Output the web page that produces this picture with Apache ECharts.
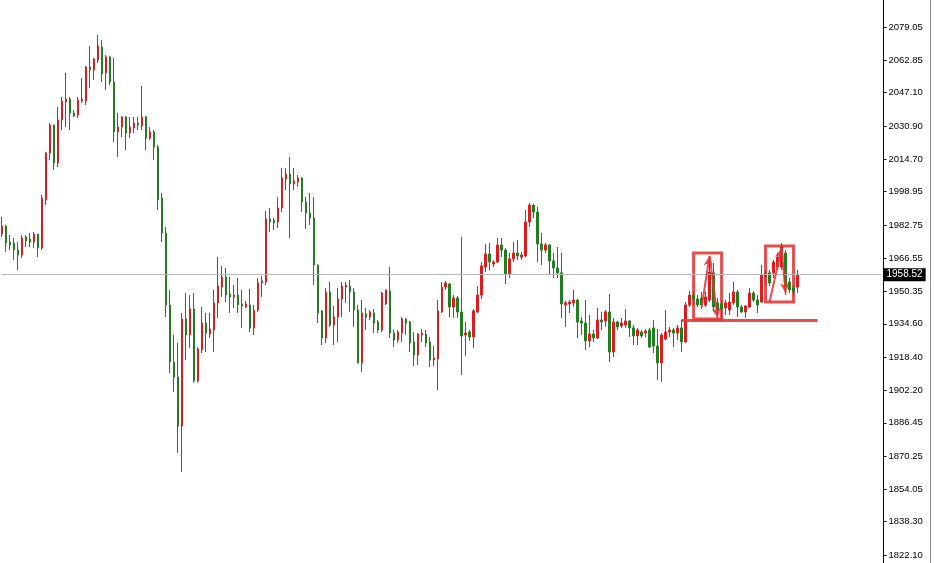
<!DOCTYPE html>
<html><head><meta charset="utf-8">
<script src="https://cdn.jsdelivr.net/npm/echarts@6/dist/echarts.min.js"></script>
<style>html,body{margin:0;padding:0;background:#fff}#c{width:934px;height:563px}</style>
</head><body><div id="c"></div>
<script>
// OHLC candles: [open, close, low, high]
const candles = [
[1978.3,1982.2,1976.9,1986.6],[1982.2,1973.9,1969.6,1982.7],[1974.4,1973.0,1970.5,1977.8],[1973.9,1970.5,1965.7,1976.4],[1970.5,1968.1,1960.8,1974.4],
[1968.1,1976.4,1966.6,1977.8],[1976.9,1974.9,1972.0,1977.8],[1975.9,1974.4,1972.0,1978.8],[1974.4,1978.3,1971.5,1979.3],[1978.3,1971.5,1967.1,1978.3],
[1971.5,1995.8,1970.5,1997.3],[1994.9,2017.7,1992.4,2018.3],[2017.7,2031.4,2014.3,2032.3],[2031.4,2012.9,2009.5,2031.4],[2012.9,2033.8,2010.9,2040.1],
[2033.8,2043.0,2028.9,2045.0],[2042.6,2044.0,2030.4,2056.7],[2044.0,2037.2,2028.9,2045.0],[2037.2,2035.8,2035.3,2038.7],[2036.2,2043.5,2034.8,2045.0],
[2043.0,2044.0,2042.1,2054.2],[2043.0,2059.6,2041.1,2060.1],[2059.6,2058.1,2049.4,2069.8],[2058.1,2063.5,2053.3,2064.0],[2063.0,2069.8,2061.5,2075.2],
[2069.3,2056.2,2052.3,2072.7],[2056.7,2064.5,2048.4,2065.4],[2064.5,2052.3,2050.8,2065.0],[2052.3,2028.0,2023.1,2064.0],[2028.0,2030.4,2015.8,2037.2],
[2030.4,2035.3,2025.5,2035.8],[2035.3,2027.5,2019.2,2035.8],[2027.5,2030.4,2025.0,2035.3],[2029.9,2032.3,2027.5,2035.3],[2032.3,2031.4,2028.9,2035.3],
[2030.9,2035.3,2028.9,2050.4],[2035.3,2025.0,2019.2,2035.8],[2025.0,2028.0,2024.1,2030.4],[2028.0,2020.7,2014.3,2028.9],[2020.7,1994.9,1990.0,2021.6],
[1995.8,1978.8,1974.4,1998.3],[1978.8,1943.8,1937.9,1981.7],[1943.8,1916.0,1910.7,1951.1],[1916.0,1908.7,1901.4,1929.2],[1908.7,1884.9,1871.8,1925.3],
[1884.9,1937.0,1862.5,1939.9],[1937.0,1929.2,1917.0,1949.6],[1929.2,1941.8,1922.9,1948.6],[1941.8,1906.8,1906.0,1949.6],[1906.8,1922.4,1906.0,1923.3],
[1921.9,1935.0,1920.4,1942.8],[1935.0,1930.1,1920.9,1939.9],[1929.7,1932.1,1927.7,1939.9],[1931.6,1944.8,1920.9,1951.1],[1944.8,1953.0,1937.5,1967.1],
[1952.5,1957.4,1947.7,1962.8],[1957.4,1948.6,1945.2,1961.8],[1949.1,1947.7,1939.9,1957.4],[1947.7,1948.6,1942.3,1953.5],[1948.6,1943.8,1939.9,1956.9],
[1944.3,1943.3,1932.6,1951.1],[1942.8,1944.3,1942.3,1945.7],[1943.8,1932.6,1930.6,1951.6],[1932.6,1941.3,1929.2,1943.8],[1941.3,1954.5,1940.4,1956.9],
[1954.5,1955.5,1947.7,1957.9],[1955.0,1985.6,1953.5,1989.5],[1985.6,1984.2,1979.3,1991.0],[1985.1,1983.7,1980.3,1986.1],[1984.2,1991.0,1981.2,1996.3],
[1991.0,2005.6,1989.0,2010.4],[2005.1,2007.5,1999.7,2010.4],[2007.5,2002.7,1976.4,2015.8],[2002.7,2004.1,1999.7,2010.4],[2003.6,2005.6,2001.2,2007.0],
[2005.6,1993.9,1989.0,2006.1],[1993.9,1988.5,1980.8,1996.3],[1988.5,1986.1,1982.7,1998.3],[1986.1,1963.2,1953.5,1996.3],[1963.2,1939.9,1935.0,1963.5],
[1940.9,1927.7,1924.3,1941.3],[1927.7,1950.1,1925.3,1952.0],[1950.1,1934.0,1933.1,1955.0],[1934.0,1937.9,1924.3,1943.3],[1937.9,1946.7,1925.8,1952.0],
[1946.7,1953.0,1937.9,1955.0],[1952.5,1953.5,1944.8,1955.0],[1953.0,1950.1,1940.4,1955.9],[1950.1,1941.3,1933.1,1952.0],[1941.3,1915.6,1915.3,1943.8],
[1915.6,1939.9,1911.2,1946.2],[1939.4,1937.9,1931.6,1942.3],[1937.9,1940.4,1936.5,1941.3],[1939.9,1935.0,1930.1,1941.8],[1935.5,1931.6,1930.1,1936.5],
[1931.6,1949.6,1930.6,1950.1],[1944.3,1951.1,1943.8,1951.3],[1950.6,1930.1,1927.7,1962.3],[1930.1,1926.7,1923.3,1931.6],[1926.7,1930.6,1925.3,1931.6],
[1930.1,1937.0,1925.8,1937.9],[1937.0,1935.0,1929.2,1937.5],[1935.5,1925.3,1920.9,1936.0],[1925.8,1919.4,1914.1,1930.6],[1919.4,1929.7,1914.6,1930.1],
[1929.2,1930.1,1925.8,1932.1],[1929.7,1925.3,1923.3,1931.6],[1925.8,1917.0,1913.6,1928.2],[1917.0,1918.0,1914.1,1923.8],[1917.5,1940.9,1902.4,1946.2],
[1940.4,1952.5,1939.9,1955.0],[1952.5,1954.5,1951.1,1955.5],[1954.0,1942.8,1937.9,1954.5],[1942.8,1947.2,1937.5,1948.6],[1947.2,1940.4,1937.5,1948.2],
[1940.4,1928.7,1909.7,1976.9],[1929.2,1930.1,1919.0,1935.5],[1930.6,1928.2,1926.3,1931.6],[1928.2,1940.9,1922.9,1941.8],[1940.4,1948.6,1939.9,1953.0],
[1948.6,1962.8,1946.7,1964.7],[1962.3,1968.6,1959.8,1973.5],[1968.6,1964.7,1960.8,1973.9],[1963.7,1964.7,1962.3,1965.7],[1964.7,1973.0,1964.2,1976.4],
[1973.0,1970.5,1967.1,1976.4],[1970.5,1958.9,1954.0,1971.5],[1958.9,1966.2,1956.9,1969.1],[1966.2,1969.1,1964.7,1974.4],[1969.1,1967.6,1965.7,1975.4],
[1967.1,1968.1,1965.7,1969.6],[1967.6,1984.2,1967.1,1990.0],[1984.2,1992.4,1981.7,1993.4],[1992.4,1989.0,1986.1,1992.9],[1989.0,1973.5,1964.7,1991.5],
[1973.5,1970.5,1963.2,1978.8],[1970.5,1973.0,1969.1,1973.9],[1973.0,1965.2,1958.4,1973.5],[1965.2,1961.8,1956.9,1969.1],[1961.8,1959.4,1956.9,1972.0],
[1959.4,1944.3,1937.5,1969.1],[1943.8,1944.8,1933.1,1945.7],[1944.3,1945.2,1939.9,1946.2],[1944.8,1946.2,1942.8,1951.1],[1946.2,1935.5,1927.7,1946.7],
[1936.0,1935.0,1929.2,1937.9],[1935.0,1926.3,1921.9,1946.2],[1926.3,1929.7,1923.3,1938.9],[1929.7,1927.7,1925.8,1931.6],[1927.7,1936.5,1927.2,1942.3],
[1936.5,1935.5,1931.6,1940.4],[1936.0,1940.4,1933.1,1941.3],[1940.4,1920.9,1916.0,1949.1],[1920.9,1935.5,1918.5,1937.5],[1935.5,1933.1,1931.6,1936.0],
[1933.6,1935.0,1932.6,1937.5],[1934.0,1936.0,1932.6,1941.8],[1936.0,1932.6,1928.2,1936.5],[1932.6,1928.7,1924.3,1934.0],[1928.7,1931.6,1924.3,1932.6],
[1930.6,1928.7,1927.7,1931.6],[1930.1,1931.1,1928.2,1932.1],[1931.6,1923.3,1922.9,1932.6],[1932.6,1923.8,1920.4,1936.5],[1923.8,1915.6,1907.3,1932.1],
[1915.6,1929.2,1906.3,1930.1],[1927.2,1930.6,1926.7,1941.3],[1930.6,1931.6,1928.2,1933.1],[1931.6,1930.1,1923.3,1932.6],[1930.1,1932.6,1926.7,1934.0],
[1932.6,1925.8,1920.9,1936.5],[1925.8,1943.8,1925.3,1945.2],[1943.8,1948.6,1942.8,1950.6],[1948.6,1946.7,1943.8,1950.1],[1946.7,1943.8,1942.8,1948.6],
[1947.2,1943.8,1941.8,1950.1],[1943.8,1947.7,1942.8,1950.1],[1946.2,1959.8,1945.2,1964.7],[1959.4,1942.8,1940.4,1964.2],[1944.8,1941.3,1937.9,1947.2],
[1944.3,1941.8,1936.5,1946.2],[1942.3,1944.8,1938.9,1946.2],[1941.3,1945.2,1938.9,1949.6],[1944.8,1950.1,1943.8,1955.0],[1950.1,1942.8,1937.9,1951.1],
[1942.8,1940.4,1939.9,1943.8],[1940.4,1943.3,1937.5,1943.8],[1942.8,1949.6,1942.3,1952.0],[1949.6,1946.2,1945.2,1950.6],[1946.2,1943.8,1939.9,1948.6],
[1945.2,1958.4,1944.8,1963.2],[1957.4,1959.4,1953.5,1960.8],[1959.4,1954.5,1953.0,1960.8],[1959.4,1964.7,1956.9,1965.7],[1962.3,1967.1,1960.8,1969.1],
[1962.3,1972.0,1960.8,1973.9],[1969.1,1952.0,1948.6,1970.5],[1955.0,1951.1,1949.6,1956.9],[1952.0,1950.1,1948.6,1953.5],[1952.5,1958.52,1949.6,1960.8]
];
const slotCount = 221; // bars shown + empty right margin
const categories = Array.from({length: slotCount}, (_, i) => String(i + 1));
const tickValues = [2079.05,2062.85,2047.10,2030.90,2014.70,1998.95,1982.75,1966.55,1950.35,1934.60,1918.40,1902.20,1886.45,1870.25,1854.05,1838.30,1822.10];
const lastPrice = 1958.52;
const yMin = 1818.2, yMax = 2092.2;
// annotation boxes: [startIndex, topPrice, endIndex, bottomPrice]
const boxes = [[173, 1969.1, 180, 1936.9], [191, 1972.5, 198, 1945.2]];
// arrows: [fromIndex, fromPrice, toIndex, toPrice]
const arrows = [[175, 1942.8, 177, 1967.6], [177, 1967.6, 179, 1937.5], [192, 1945.2, 195, 1971.5], [195, 1971.5, 196, 1949.6]];
// support line: [fromIndex, toIndex, price]
const supportLine = [170, 204, 1936.5];

const RED = '#e3191c', GREEN = '#1d7f1d', ANN = 'rgba(228,52,52,0.88)';

const markLineData = [
  [{xAxis: 0, yAxis: lastPrice, symbol: 'none', lineStyle: {color: '#b9b9b9', width: 1, type: 'solid'},
    label: {show: true, position: 'end', formatter: lastPrice.toFixed(2), color: '#fff', backgroundColor: '#000',
      padding: [2, 3, 1, 3], fontFamily: 'Liberation Sans', fontSize: 10, distance: 2}},
   {xAxis: slotCount - 1, yAxis: lastPrice, symbol: 'none'}],
  [{coord: [supportLine[0], supportLine[2]], symbol: 'none', lineStyle: {color: ANN, width: 3, type: 'solid'}, label: {show: false}},
   {coord: [supportLine[1], supportLine[2]], symbol: 'none'}]
];
arrows.forEach(a => {
  markLineData.push([
    {coord: [a[0], a[1]], symbol: 'none', lineStyle: {color: ANN, width: 2, type: 'solid'}, label: {show: false}},
    {coord: [a[2], a[3]], symbol: 'arrow', symbolSize: [7, 10]}
  ]);
});

const chart = echarts.init(document.getElementById('c'), null, {renderer: 'canvas'});
chart.setOption({
  animation: false,
  backgroundColor: '#fff',
  grid: {left: -0.5, right: 50.5, top: 0, bottom: 0},
  xAxis: {type: 'category', data: categories, boundaryGap: true, show: false},
  yAxis: {
    type: 'value', position: 'right', min: yMin, max: yMax, scale: true,
    splitLine: {show: false},
    axisLine: {show: true, lineStyle: {color: '#000', width: 1}},
    axisTick: {show: true, length: 3, customValues: tickValues, lineStyle: {color: '#000'}},
    axisLabel: {show: true, customValues: tickValues, margin: 5, color: '#000', fontFamily: 'Liberation Sans', fontSize: 9.5,
      formatter: v => Number(v).toFixed(2)}
  },
  series: [{
    type: 'candlestick',
    data: candles,
    barWidth: 2,
    itemStyle: {color: RED, color0: GREEN, borderColor: RED, borderColor0: GREEN, borderWidth: 1},
    markLine: {silent: true, animation: false, data: markLineData},
    markArea: {silent: true, itemStyle: {color: 'rgba(0,0,0,0)', borderColor: ANN, borderWidth: 3},
      data: boxes.map(b => [{coord: [b[0], b[1]]}, {coord: [b[2], b[3]]}])}
  }],
  graphic: [{type: 'line', shape: {x1: 930.5, y1: 0, x2: 930.5, y2: 563}, style: {stroke: '#8a8a8a', lineWidth: 1}}]
});
</script></body></html>
